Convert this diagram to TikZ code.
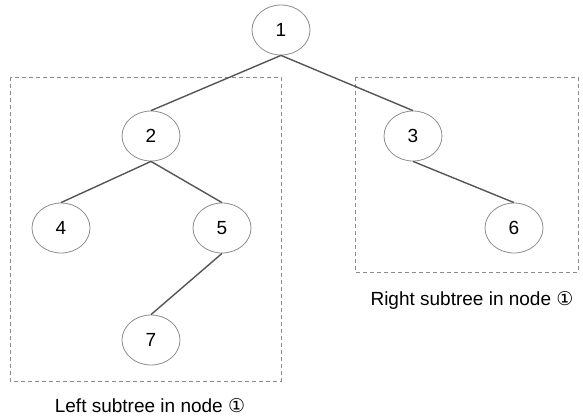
\documentclass[tikz,border=0pt]{standalone}
\usepackage{fontspec}
\setmainfont{Liberation Sans}
\newfontfamily\circfont{DejaVu Sans}
\usetikzlibrary{shapes.geometric,positioning}
\usepackage{xcolor}
\definecolor{edgegray}{HTML}{555555}
\definecolor{boxgray}{HTML}{8C8C8C}

\begin{document}
\begin{tikzpicture}[x=1pt, y=-1pt, font=\fontsize{19}{22}\selectfont,
      nd/.style={draw=boxgray,ellipse,line width=0.8pt,
                 minimum width=58pt,minimum height=50pt,inner sep=0pt},
      edge/.style={draw=edgegray,line width=1.4pt},
      subbox/.style={draw=boxgray,line width=0.9pt,dash pattern=on 4pt off 3pt}]
    \useasboundingbox (0,0) rectangle (583,418);

    % subtree frames
    \draw[subbox] (10,77) rectangle (281,381);
    \draw[subbox] (355,77) rectangle (578,272);

    \node[nd] (n1) at (281,30)  {1};
    \node[nd] (n2) at (151,136) {2};
    \node[nd] (n3) at (413,136) {3};
    \node[nd] (n4) at (61,228)  {4};
    \node[nd] (n5) at (222,228) {5};
    \node[nd] (n6) at (514,228) {6};
    \node[nd] (n7) at (151,340) {7};

    \draw[edge] (n1.south)--(n2.north);
    \draw[edge] (n1.south)--(n3.north);
    \draw[edge] (n2.south)--(n4.north);
    \draw[edge] (n2.south)--(n5.north);
    \draw[edge] (n3.south)--(n6.north);
    \draw[edge] (n5.south)--(n7.north);

    % captions
    \node (lcap) at (150,406) {Left subtree in node {\circfont ①}};
    \node (rcap) at (472,300) {Right subtree in node {\circfont ①}};
  \end{tikzpicture}
\end{document}
